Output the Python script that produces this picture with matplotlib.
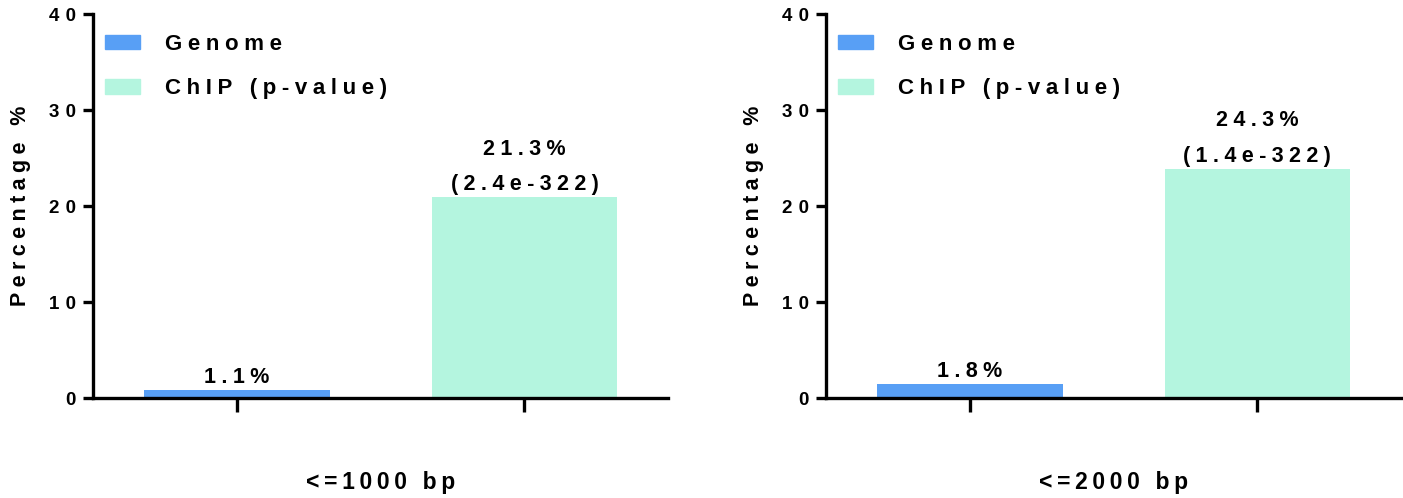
import matplotlib
matplotlib.use("Agg")
from matplotlib import pyplot as plt
from matplotlib.patches import Patch

plt.rcParams['font.family'] = ['Liberation Sans', 'DejaVu Sans']
plt.rcParams['font.weight'] = 'bold'

# bar heights (percent)
series = ["Genome", "ChIP (p-value)"]
colors = ["#589ff5", "#b4f5df"]
panels = ["<=1000 bp", "<=2000 bp"]
heights = [[0.85, 20.9], [1.5, 23.9]]
labels = [["1.1%", "21.3%\n(2.4e-322)"], ["1.8%", "24.3%\n(1.4e-322)"]]
yticks = [0, 10, 20, 30, 40]

WIDE = "\u2004"   # 1/3 em
MID = "\u2005"    # 1/4 em
THIN = "\u2009"   # 1/5 em


def spaced(s, sep=WIDE):
    # wide letter spacing like the original (Prism style)
    return "\n".join(sep.join(line) for line in s.split("\n"))


fig = plt.figure(figsize=(14.03, 4.98), dpi=100)
lefts = [0.0663, 0.5887]

for k in range(2):
    ax = fig.add_axes([lefts[k], 0.2008, 0.410, 0.771])
    xs = [0, 1]
    ax.bar(xs, heights[k], width=0.645, color=colors, zorder=2)
    for x, h, t in zip(xs, heights[k], labels[k]):
        ax.text(x, h + 0.2, spaced(t, MID), ha="center", va="bottom",
                fontsize=15.5, fontweight="bold", linespacing=1.9)
    ax.set_xlim(-0.5, 1.5)
    ax.set_ylim(0, 40)
    ax.set_yticks(yticks)
    ax.set_yticklabels([spaced(str(v)) for v in yticks])
    ax.set_xticks(xs)
    ax.set_xticklabels(["", ""])
    for s in ["top", "right"]:
        ax.spines[s].set_visible(False)
    for s in ["left", "bottom"]:
        ax.spines[s].set_linewidth(2.4)
    ax.tick_params(axis="y", width=2.4, length=7.5, labelsize=13.5, pad=5)
    ax.tick_params(axis="x", width=2.4, length=10)
    ax.set_ylabel(spaced("Percentage %", MID), fontsize=15.5, fontweight="bold")
    ax.yaxis.set_label_coords(-0.108, 0.5)
    ax.set_xlabel(spaced(panels[k], THIN), fontsize=16.5, fontweight="bold")
    ax.xaxis.set_label_coords(0.5, -0.19)
    handles = [Patch(color=c, label=spaced(s, MID)) for c, s in zip(colors, series)]
    ax.legend(handles=handles, loc="upper left", frameon=False,
              prop={"size": 16, "weight": "bold"}, handlelength=1.58,
              handleheight=0.63, labelspacing=1.05, handletextpad=1.1,
              borderpad=0, borderaxespad=0, bbox_to_anchor=(0.021, 0.948))

fig.savefig("out.png", dpi=100)
